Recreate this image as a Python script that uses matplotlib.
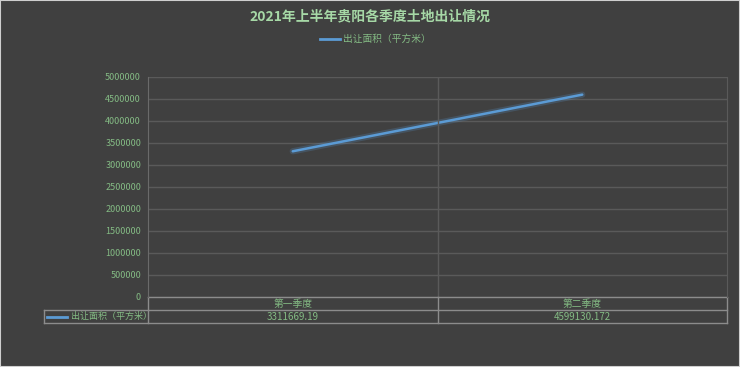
import numpy as np
import matplotlib
matplotlib.use('Agg')
import matplotlib.pyplot as plt
import matplotlib.patheffects as pe
from matplotlib.lines import Line2D

plt.rcParams['font.family'] = ['Noto Sans CJK SC', 'DejaVu Sans']

# data
categories = ['第一季度', '第二季度']
area = [3311669.19, 4599130.172]
area_labels = ['3311669.19', '4599130.172']
series_name = '出让面积（平方米）'
title = '2021年上半年贵阳各季度土地出让情况'
yticks = np.arange(0, 5000001, 500000)

bg = '#404040'
txt = '#84bb84'
grid = '#5a5a5a'
tbl = '#8c8c8c'
blue = '#5b9bd5'

fig = plt.figure(figsize=(7.4, 3.67), dpi=100, facecolor=bg)
ax = fig.add_axes([148/740, 1-297/367, 579/740, 220/367])
ax.set_facecolor(bg)

x = np.arange(len(categories))
ax.plot(x, area, color=blue, lw=1.8, solid_capstyle='round',
        path_effects=[pe.Stroke(linewidth=4.5, foreground='#5b9bd5', alpha=0.22), pe.Normal()])

ax.set_xlim(-0.5, len(categories) - 0.5)
ax.set_ylim(0, 5000000)
ax.set_yticks(yticks)
ax.set_yticklabels([str(v) for v in yticks], color=txt, fontsize=6.5)
ax.set_xticks([])
ax.tick_params(axis='y', length=0, pad=5)
ax.grid(axis='y', color=grid, lw=1)
for xv in np.arange(0.5, len(categories) - 0.5):
    ax.axvline(xv, color=grid, lw=1)
for s in ['top', 'bottom']:
    ax.spines[s].set_visible(False)
ax.spines['left'].set_color('#6a6a6a')
ax.spines['right'].set_color(grid)

# data table under the axes
r1 = -13/220
r2 = -26/220
lx = (44-148)/579
kw = dict(transform=ax.transAxes, color=tbl, lw=1, clip_on=False)
ax.add_line(Line2D([0, 1], [0, 0], **kw))
ax.add_line(Line2D([lx, 1], [r1, r1], **kw))
ax.add_line(Line2D([lx, 1], [r2, r2], **kw))
ax.add_line(Line2D([lx, lx], [r1, r2], **kw))
ax.add_line(Line2D([0, 0], [0, r2], **kw))
ax.add_line(Line2D([1, 1], [0, r2], **kw))
ncat = len(categories)
for i in range(1, ncat):
    ax.add_line(Line2D([i/ncat, i/ncat], [0, r2], **kw))
for i, c in enumerate(categories):
    xc = (i + 0.5) / ncat
    ax.text(xc, r1/2, c, transform=ax.transAxes, ha='center', va='center',
            color=txt, fontsize=7)
    ax.text(xc, (r1+r2)/2, area_labels[i], transform=ax.transAxes, ha='center',
            va='center', color=txt, fontsize=7)
ax.add_line(Line2D([lx+0.006, lx+0.04], [(r1+r2)/2]*2, transform=ax.transAxes,
                   color=blue, lw=2, clip_on=False))
ax.text(lx+0.046, (r1+r2)/2, series_name, transform=ax.transAxes, ha='left',
        va='center', color=txt, fontsize=6.5)

# title and legend
fig.text(0.5, 1-16/367, title, ha='center', va='center', color='#a6d8a6',
         fontsize=10, fontweight='bold')
fig.add_artist(Line2D([320/740, 340/740], [1-39/367]*2, color=blue, lw=2))
fig.text(343/740, 1-39/367, series_name, ha='left', va='center', color=txt, fontsize=7)

# thin frame around the figure
fig.add_artist(plt.Rectangle((0, 0), 1, 1, transform=fig.transFigure, fill=False,
                             edgecolor='#cfcfcf', lw=1.5))

fig.savefig('out.png', dpi=100, facecolor=bg)
